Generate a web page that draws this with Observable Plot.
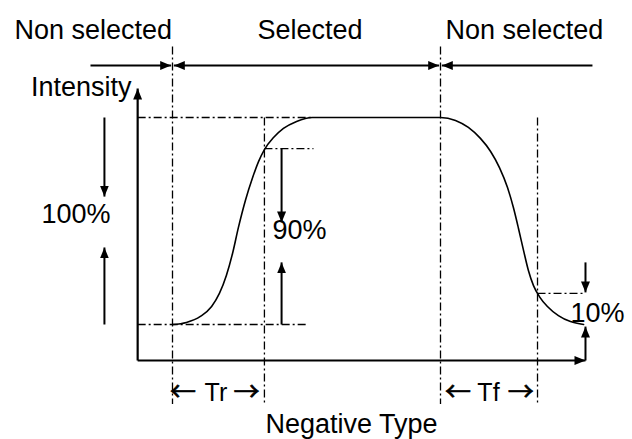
<!DOCTYPE html>
<html><head><meta charset="utf-8">
<script src="https://cdn.jsdelivr.net/npm/d3@7"></script>
<script src="https://cdn.jsdelivr.net/npm/@observablehq/plot@0.6"></script>
<style>html,body{margin:0;padding:0;background:#fff;} svg{display:block}</style>
</head><body><div id="chart"></div>
<script>
// Units: time t (selected period runs 0..100), intensity I in % (low level 0, high level 100)
const curveT = [0, 5.2, 10.4, 14.6, 17.5, 20.1, 22.4, 24.6, 27.2, 29.9, 32.1, 34.3, 37.7, 41.4, 46.3, 52.2,
                100, 105.6, 110.4, 114.9, 118.7, 122.0, 125.0, 127.2, 129.1, 131.0, 132.8, 134.7, 136.9, 139.9, 144.0, 148.5, 153.4];
const curveI = [0, 1.0, 3.9, 8.7, 15.0, 23.7, 34.3, 46.9, 59.9, 71.0, 78.7, 84.5, 90.3, 94.7, 98.1, 100,
                100, 98.6, 95.2, 89.9, 83.6, 75.8, 66.2, 56.5, 46.4, 35.7, 26.1, 18.8, 13.5, 8.7, 4.3, 1.4, 0];

// axes (origin and arrow ends)
const axisOriginT = -13, axisOriginI = -17.4, axisTopI = 114, axisRightT = 154.1;

// vertical dash-dot guides: selection start, end of Tr, selection end, end of Tf
const guideT      = [0, 34.3, 100, 136.2];
const guideTopI   = [134.3, 100, 134.3, 100];
const guideBotI   = [-38.4, -38.4, -38.4, -38.4];

// horizontal dash-dot levels: high (100), low (0), 90% mark, 10% mark
const levelI     = [100, 0, 85, 15];
const levelFromT = [-13, -13, 34.3, 136.2];
const levelToT   = [52, 50.7, 52.6, 154.1];

// top "selected / non selected" arrows
const rowI = 125.1;
const rowFromT = [-30.6, 156.7];
const rowToT   = [-0.5, 100.5];
const midFromT = 0.5, midToT = 99.5;

// measurement arrows (t, from I, to I)
const measT    = [-25.4, -25.4, 40.7, 40.7, 154.1, 154.1];
const measFrom = [100, 0, 85, 0, 30, -17.4];
const measTo   = [61.8, 37.2, 49.3, 30, 15.5, -1];

// labels
const labelText   = ["Non selected", "Selected", "Non selected", "Intensity", "100%", "90%", "10%", "Negative Type"];
const labelT      = [-59, 51.3, 101.9, -15.3, -23.1, 37.3, 148.5, 34.7];
const labelI      = [137.9, 137.9, 137.9, 110.6, 48.8, 41.5, 1.0, -52.2];
const labelAnchor = ["start", "middle", "start", "end", "end", "start", "start", "start"];

// rise / fall time labels: "← Tr →", "← Tf →"
const timeText   = ["Tr", "Tf"];
const timeT      = [16.2, 117.9];
const timeLeftT  = [3.9, 106.5];
const timeRightT = [27.6, 129.9];
const timeI      = -32.9;

function head(color) {
  const ns = "http://www.w3.org/2000/svg";
  const m = document.createElementNS(ns, "marker");
  m.setAttribute("viewBox", "-11 -4.5 11 9");
  m.setAttribute("markerWidth", 11);
  m.setAttribute("markerHeight", 9);
  m.setAttribute("markerUnits", "userSpaceOnUse");
  m.setAttribute("orient", "auto-start-reverse");
  const p = document.createElementNS(ns, "path");
  p.setAttribute("d", "M-11,-4.5L0,0L-11,4.5Z");
  p.setAttribute("fill", color);
  p.setAttribute("stroke", "none");
  m.appendChild(p);
  return m;
}

const curve = curveT.map((t, i) => ({t, I: curveI[i]}));
const guides = guideT.map((t, i) => ({t, top: guideTopI[i], bot: guideBotI[i]}));
const levels = levelI.map((I, i) => ({I, from: levelFromT[i], to: levelToT[i]}));
const rowArrows = rowFromT.map((f, i) => ({from: f, to: rowToT[i]}));
const meas = measT.map((t, i) => ({t, from: measFrom[i], to: measTo[i]}));
const labels = labelText.map((text, i) => ({text, t: labelT[i], I: labelI[i], anchor: labelAnchor[i]}));
const times = timeText.map((text, i) => ({text, t: timeT[i], l: timeLeftT[i], r: timeRightT[i]}));

const dash = "8,3,2,3";
const font = "'Liberation Sans', Arial, sans-serif";
const arrowFont = "'Noto Sans CJK JP', 'Noto Sans CJK SC', sans-serif";

const chart = Plot.plot({
  width: 632,
  height: 439,
  x: {domain: [0, 100], range: [172, 440], axis: null},
  y: {domain: [0, 100], range: [324, 117], axis: null},
  style: {fontFamily: font, background: "#fff", color: "#000", overflow: "visible"},
  marks: [
    Plot.link(guides, {x1: "t", x2: "t", y1: "top", y2: "bot", stroke: "#000", strokeWidth: 1.3, strokeDasharray: dash}),
    Plot.link(levels, {x1: "from", x2: "to", y1: "I", y2: "I", stroke: "#000", strokeWidth: 1.3, strokeDasharray: dash}),
    Plot.line(curve, {x: "t", y: "I", curve: "monotone-x", stroke: "#000", strokeWidth: 1.6}),
    // axes
    Plot.link([{}], {x1: () => axisOriginT, x2: () => axisOriginT, y1: () => axisOriginI, y2: () => axisTopI, stroke: "#000", strokeWidth: 2.2, markerEnd: head}),
    Plot.link([{}], {x1: () => axisOriginT, x2: () => axisRightT, y1: () => axisOriginI, y2: () => axisOriginI, stroke: "#000", strokeWidth: 2.2, markerEnd: head}),
    // top row
    Plot.link(rowArrows, {x1: "from", x2: "to", y1: () => rowI, y2: () => rowI, stroke: "#000", strokeWidth: 2, markerEnd: head}),
    Plot.link([{}], {x1: () => midFromT, x2: () => midToT, y1: () => rowI, y2: () => rowI, stroke: "#000", strokeWidth: 2, markerStart: head, markerEnd: head}),
    // measurement arrows
    Plot.link(meas, {x1: "t", x2: "t", y1: "from", y2: "to", stroke: "#000", strokeWidth: 2, markerEnd: head}),
    // labels
    Plot.text(labels.filter(d => d.anchor === "start"), {x: "t", y: "I", text: "text", textAnchor: "start", lineAnchor: "bottom", fontSize: 27, fill: "#000", ariaLabel: "biglabel"}),
    Plot.text(labels.filter(d => d.anchor === "middle"), {x: "t", y: "I", text: "text", textAnchor: "middle", lineAnchor: "bottom", fontSize: 27, fill: "#000", ariaLabel: "biglabel"}),
    Plot.text(labels.filter(d => d.anchor === "end"), {x: "t", y: "I", text: "text", textAnchor: "end", lineAnchor: "bottom", fontSize: 27, fill: "#000", ariaLabel: "biglabel"}),
    Plot.text(times, {x: "t", y: () => timeI, text: "text", textAnchor: "middle", fontSize: 25, fill: "#000"}),
    Plot.text(times, {x: "l", y: () => timeI, text: () => "←", textAnchor: "middle", fontSize: 26, fontFamily: arrowFont, fill: "#000", stroke: "#000", strokeWidth: 0.7}),
    Plot.text(times, {x: "r", y: () => timeI, text: () => "→", textAnchor: "middle", fontSize: 26, fontFamily: arrowFont, fill: "#000", stroke: "#000", strokeWidth: 0.7})
  ]
});

// slight vertical stretch of the large labels, as in the reference lettering
d3.select(chart).selectAll('g[aria-label="biglabel"] text').each(function () {
  const tr = this.getAttribute("transform");
  if (tr) this.setAttribute("transform", tr + " scale(1,1.1)");
});

document.getElementById("chart").appendChild(chart);
</script></body></html>
